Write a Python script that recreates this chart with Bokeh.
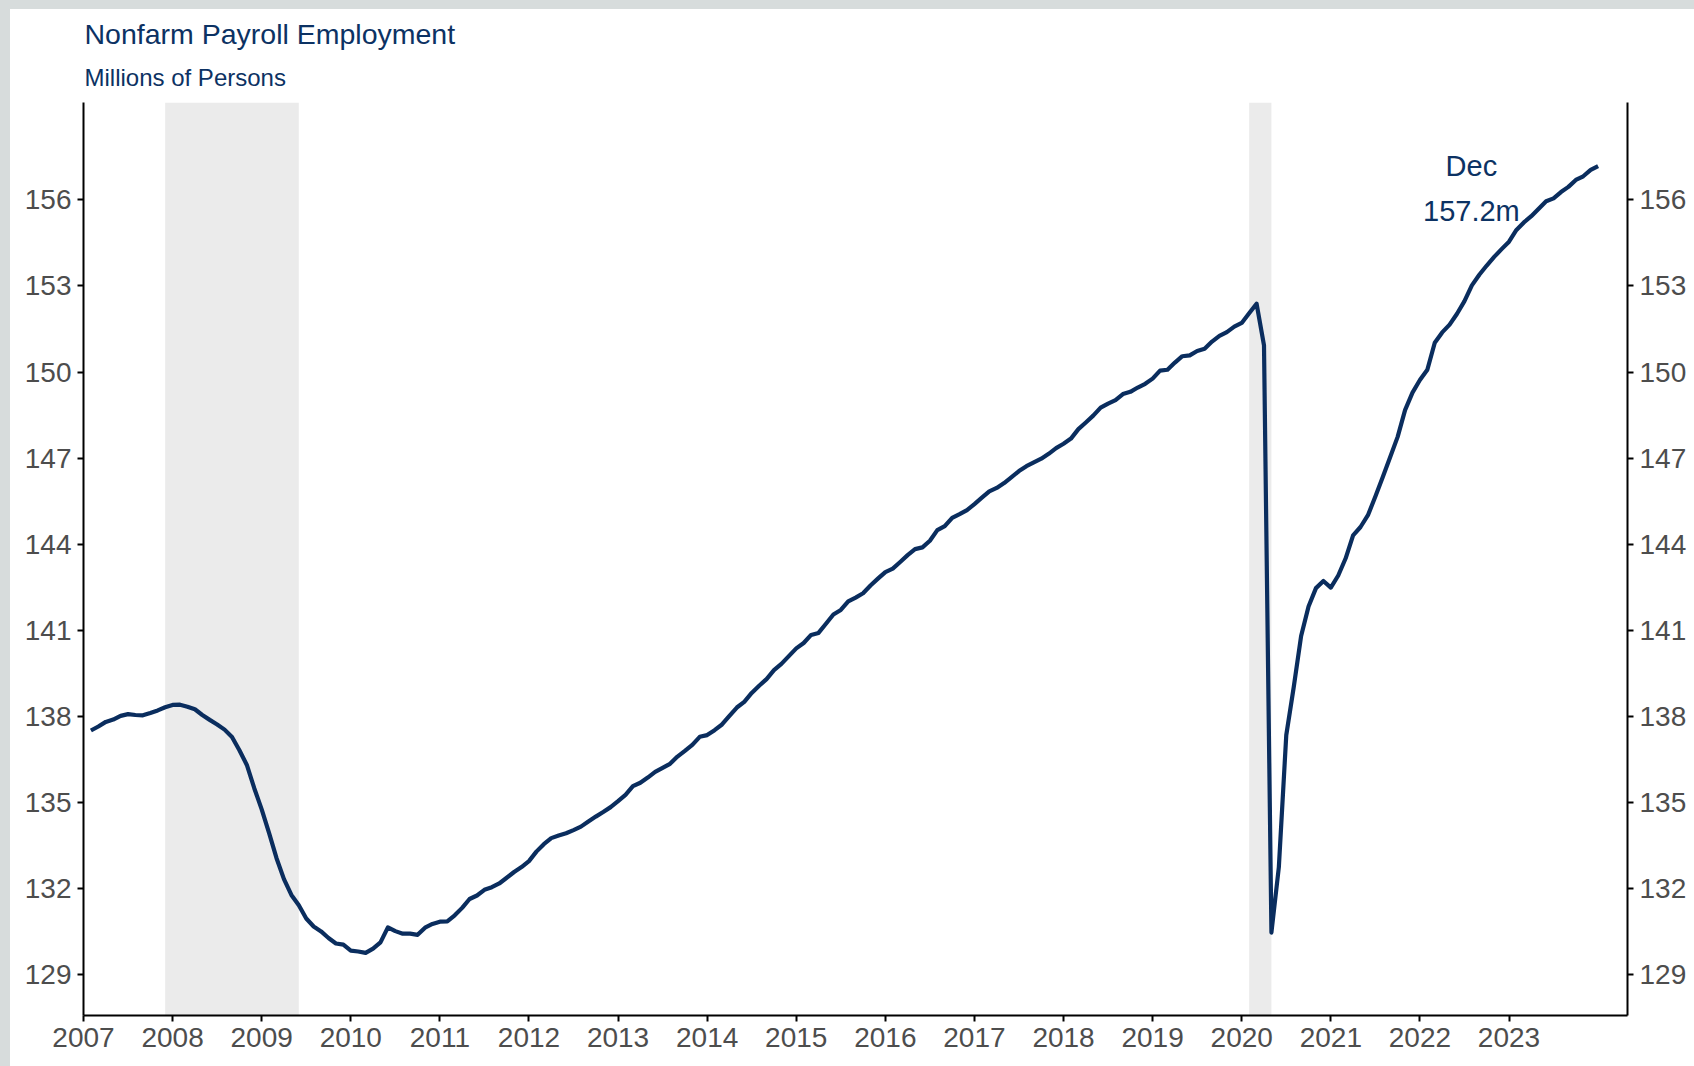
from bokeh.plotting import figure
from bokeh.models import Range1d, FixedTicker, LinearAxis, BoxAnnotation, Label, Title, ColumnDataSource, Spacer
from bokeh.layouts import row, column
from bokeh.embed import file_html
from bokeh.resources import INLINE

# ---------------- data (millions of persons, monthly, SA) ----------------
years = list(range(2007, 2024))
month_names = ["Jan", "Feb", "Mar", "Apr", "May", "Jun",
               "Jul", "Aug", "Sep", "Oct", "Nov", "Dec"]

payroll_2007 = [137.51, 137.65, 137.81, 137.89, 138.02, 138.08, 138.05, 138.04, 138.12, 138.21, 138.32, 138.40]
payroll_2008 = [138.41, 138.34, 138.25, 138.05, 137.88, 137.72, 137.54, 137.28, 136.82, 136.31, 135.50, 134.76]
payroll_2009 = [133.93, 133.06, 132.33, 131.78, 131.42, 130.96, 130.68, 130.51, 130.28, 130.09, 130.05, 129.84]
payroll_2010 = [129.81, 129.76, 129.91, 130.13, 130.65, 130.52, 130.43, 130.43, 130.39, 130.64, 130.77, 130.85]
payroll_2011 = [130.86, 131.07, 131.33, 131.64, 131.76, 131.96, 132.05, 132.18, 132.38, 132.58, 132.75, 132.96]
payroll_2012 = [133.29, 133.55, 133.76, 133.85, 133.93, 134.04, 134.16, 134.34, 134.51, 134.67, 134.84, 135.05]
payroll_2013 = [135.27, 135.57, 135.69, 135.87, 136.07, 136.21, 136.35, 136.60, 136.80, 137.01, 137.29, 137.35]
payroll_2014 = [137.52, 137.72, 138.02, 138.31, 138.51, 138.82, 139.07, 139.30, 139.61, 139.83, 140.10, 140.37]
payroll_2015 = [140.56, 140.84, 140.91, 141.23, 141.55, 141.71, 142.01, 142.14, 142.29, 142.56, 142.80, 143.03]
payroll_2016 = [143.15, 143.38, 143.62, 143.83, 143.89, 144.12, 144.49, 144.63, 144.92, 145.05, 145.19, 145.40]
payroll_2017 = [145.62, 145.84, 145.96, 146.13, 146.34, 146.55, 146.72, 146.85, 146.98, 147.15, 147.35, 147.50]
payroll_2018 = [147.68, 148.01, 148.24, 148.48, 148.76, 148.90, 149.02, 149.23, 149.31, 149.46, 149.59, 149.77]
payroll_2019 = [150.05, 150.08, 150.33, 150.55, 150.58, 150.73, 150.81, 151.06, 151.26, 151.39, 151.58, 151.71]
payroll_2020 = [152.05, 152.38, 150.93, 130.47, 132.75, 137.35, 139.01, 140.80, 141.83, 142.47, 142.72, 142.49]
payroll_2021 = [142.91, 143.51, 144.31, 144.60, 145.01, 145.66, 146.34, 147.04, 147.74, 148.67, 149.28, 149.72]
payroll_2022 = [150.08, 151.02, 151.38, 151.65, 152.03, 152.47, 153.02, 153.39, 153.71, 154.01, 154.28, 154.54]
payroll_2023 = [154.95, 155.21, 155.43, 155.69, 155.95, 156.05, 156.27, 156.45, 156.69, 156.82, 157.04, 157.17]

payroll_by_year = [payroll_2007, payroll_2008, payroll_2009, payroll_2010, payroll_2011,
                   payroll_2012, payroll_2013, payroll_2014, payroll_2015, payroll_2016,
                   payroll_2017, payroll_2018, payroll_2019, payroll_2020, payroll_2021,
                   payroll_2022, payroll_2023]

# NBER recessions (start month, end month)
recession_starts = ["2007-12", "2020-02"]
recession_ends = ["2009-06", "2020-05"]

y_ticks = [129, 132, 135, 138, 141, 144, 147, 150, 153, 156]
x_tick_labels = [str(yr) for yr in years]

title_text = "Nonfarm Payroll Employment"
subtitle_text = "Millions of Persons"

# ---------------- build series ----------------
xs, ys = [], []
for yr, vals in zip(years, payroll_by_year):
    for m, v in enumerate(vals, start=1):
        xs.append(yr + m / 12.0)   # month-end position
        ys.append(v)
src = ColumnDataSource(dict(x=xs, y=ys))


def ym_to_x(s):
    yy, mm = s.split("-")
    return int(yy) + (int(mm) - 1) / 12.0


# ---------------- figure ----------------
NAVY = "#0A2D5E"
TEXT_NAVY = "#0C3263"
GRAY_TXT = "#4D4D4D"
PAGE_GRAY = "#D7DCDC"
FONT = "Liberation Sans"

X0, X1 = 2007.0, 2024.33
Y0, Y1 = 127.58, 159.39

p = figure(width=1684, height=1057, output_backend="svg", toolbar_location=None,
           x_range=Range1d(X0, X1), y_range=Range1d(Y0, Y1),
           min_border_left=73, min_border_right=67, min_border_top=93, min_border_bottom=51,
           background_fill_color="white", border_fill_color="white")
p.outline_line_color = None
p.grid.visible = False

for s0, s1 in zip(recession_starts, recession_ends):
    p.add_layout(BoxAnnotation(left=ym_to_x(s0), right=ym_to_x(s1),
                               fill_color="#EBEBEB", fill_alpha=1.0, line_color=None,
                               level="underlay"))

p.line("x", "y", source=src, line_color=NAVY, line_width=4.2, line_join="round")

right_axis = LinearAxis()
p.add_layout(right_axis, "right")

xticker = FixedTicker(ticks=years)
yticker = FixedTicker(ticks=y_ticks)

for ax in p.xaxis:
    ax.ticker = xticker
    ax.major_label_overrides = {yr: lab for yr, lab in zip(years, x_tick_labels)}
for ax in p.yaxis:
    ax.ticker = yticker

for ax in list(p.xaxis) + list(p.yaxis):
    ax.axis_line_color = "black"
    ax.axis_line_width = 2
    ax.major_tick_line_color = "black"
    ax.major_tick_line_width = 2
    ax.major_tick_in = 0
    ax.major_tick_out = 6
    ax.minor_tick_line_color = None
    ax.major_label_text_font = FONT
    ax.major_label_text_font_size = "28px"
    ax.major_label_text_color = GRAY_TXT
    ax.major_label_standoff = 6

# ---------------- titles (first added = nearest to the frame) ----------------
p.title.text = ""
p.add_layout(Title(text=subtitle_text, text_font=FONT, text_font_size="24px",
                   text_color=TEXT_NAVY, text_font_style="normal",
                   align="left", offset=1, standoff=24), "above")
p.add_layout(Title(text=title_text, text_font=FONT, text_font_size="28.5px",
                   text_color=TEXT_NAVY, text_font_style="normal",
                   align="left", offset=1, standoff=0), "above")

# ---------------- end-point annotation ----------------
last_val = ys[-1]
last_month = month_names[len(payroll_by_year[-1]) - 1]
ann_x = 2022.578
p.add_layout(Label(x=ann_x, y=157.175, text=last_month,
                   text_font=FONT, text_font_size="29px", text_color=TEXT_NAVY,
                   text_baseline="alphabetic", text_align="center"))
p.add_layout(Label(x=ann_x, y=155.61, text=f"{last_val:.1f}m",
                   text_font=FONT, text_font_size="29px", text_color=TEXT_NAVY,
                   text_baseline="alphabetic", text_align="center"))

# ---------------- page frame (grey strips at left and top) ----------------
left_strip = Spacer(width=10, height=1066, styles={"background-color": PAGE_GRAY})
top_strip = Spacer(width=1684, height=9, styles={"background-color": PAGE_GRAY})
page = row(left_strip, column(top_strip, p, spacing=0), spacing=0)

open("out.html", "w").write(file_html(page, INLINE))
